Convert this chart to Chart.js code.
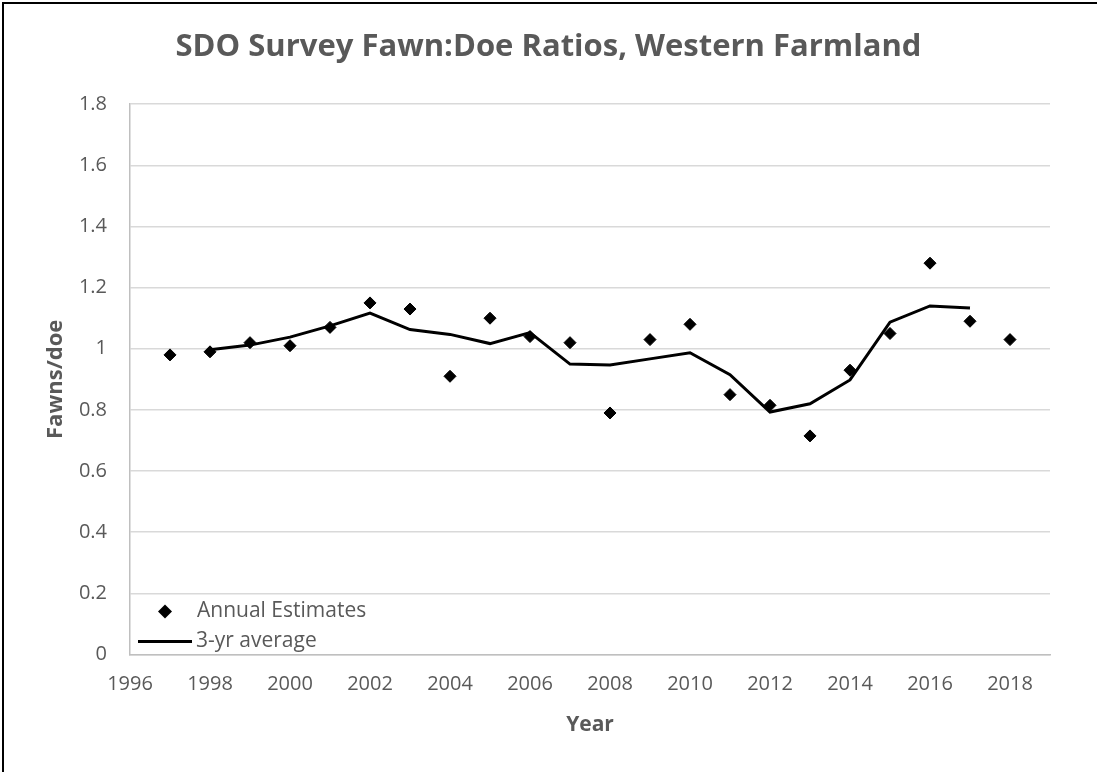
<!DOCTYPE html>
<html>
<head>
<meta charset="utf-8">
<script src="https://cdn.jsdelivr.net/npm/chart.js@4/dist/chart.umd.min.js"></script>
<style>
  html, body { margin:0; padding:0; background:#fff; }
  #wrap { width:1097px; height:772px; }
</style>
</head>
<body>
<div id="wrap"><canvas id="fdChart" width="1097" height="772"></canvas></div>
<script>
// Fawn:doe ratios by survey year
var years      = [1997,1998,1999,2000,2001,2002,2003,2004,2005,2006,2007,2008,2009,2010,2011,2012,2013,2014,2015,2016,2017,2018];
var annual     = [0.98,0.99,1.02,1.01,1.07,1.15,1.13,0.91,1.10,1.04,1.02,0.79,1.03,1.08,0.85,0.815,0.715,0.93,1.05,1.28,1.09,1.03];
var avgYears   = [1998,1999,2000,2001,2002,2003,2004,2005,2006,2007,2008,2009,2010,2011,2012,2013,2014,2015,2016,2017];
var avg3yr     = [0.997,1.012,1.038,1.075,1.117,1.063,1.047,1.017,1.053,0.950,0.947,0.967,0.987,0.915,0.793,0.820,0.898,1.087,1.140,1.133];
var xTicks     = [1996,1998,2000,2002,2004,2006,2008,2010,2012,2014,2016,2018];
var yTicks     = [0,0.2,0.4,0.6,0.8,1,1.2,1.4,1.6,1.8];

var grey = '#595959';
var fontFam = '"Open Sans", "Noto Sans", sans-serif';

// frame lines + in-plot legend
var framePlugin = {
    id:'frame',
    beforeDraw:function(chart){
        var c = chart.ctx;
        c.save();
        c.fillStyle = '#fff';
        c.fillRect(0,0,chart.width,chart.height);
        c.strokeStyle = '#000';
        c.lineWidth = 2;
        c.beginPath();
        c.moveTo(3,chart.height); c.lineTo(3,3); c.lineTo(chart.width,3);
        c.stroke();
        c.restore();
    },
    afterDraw:function(chart){
        var c = chart.ctx, a = chart.chartArea;
        var ds = chart.data.datasets;
        c.save();
        c.font = '21px ' + fontFam;
        c.textBaseline = 'middle';
        // diamond entry
        var dx = a.left + 35, dy = a.bottom - 43;
        c.fillStyle = '#000';
        c.beginPath();
        c.moveTo(dx-7,dy); c.lineTo(dx,dy-7); c.lineTo(dx+7,dy); c.lineTo(dx,dy+7);
        c.closePath(); c.fill();
        c.fillStyle = grey;
        c.fillText(ds[0].label, a.left + 67, dy);
        // line entry
        var ly = a.bottom - 13;
        c.strokeStyle = '#000';
        c.lineWidth = 3;
        c.beginPath(); c.moveTo(a.left + 8, ly); c.lineTo(a.left + 62, ly); c.stroke();
        c.fillText(ds[1].label, a.left + 66, ly);
        c.restore();
    }
};

new Chart(document.getElementById('fdChart').getContext('2d'), {
    type:'scatter',
    data:{
        datasets:[{
            label:'Annual Estimates',
            data: years.map(function(y,i){ return {x:y, y:annual[i]}; }),
            pointStyle:'rectRot',
            pointRadius:6,
            pointBorderWidth:1,
            backgroundColor:'#000',
            borderColor:'#000',
            showLine:false
        },{
            label:'3-yr average',
            data: avgYears.map(function(y,i){ return {x:y, y:avg3yr[i]}; }),
            showLine:true,
            borderColor:'#000',
            borderWidth:3,
            pointRadius:0,
            tension:0
        }]
    },
    options:{
        responsive:false,
        animation:false,
        layout:{padding:0},
        plugins:{
            legend:{display:false},
            tooltip:{enabled:false},
            title:{
                display:true,
                text:'SDO Survey Fawn:Doe Ratios, Western Farmland',
                color:grey,
                font:{family:fontFam, size:31, weight:'bold'},
                padding:{top:29, bottom:38}
            }
        },
        scales:{
            x:{
                type:'linear',
                min:1996, max:2019,
                afterBuildTicks:function(s){
                    s.ticks = xTicks.map(function(v){ return {value:v}; });
                },
                afterFit:function(s){ s.height = 117.5; },
                ticks:{
                    color:grey,
                    padding:18,
                    maxRotation:0,
                    autoSkip:false,
                    font:{family:fontFam, size:20},
                    callback:function(v){ return String(v); }
                },
                grid:{display:false, drawTicks:false},
                border:{display:true, color:'#bfbfbf', width:1.5},
                title:{
                    display:true, text:'Year', color:grey,
                    font:{family:fontFam, size:21, weight:'bold'},
                    padding:{bottom:34}
                }
            },
            y:{
                min:0, max:1.8,
                afterBuildTicks:function(s){
                    s.ticks = yTicks.map(function(v){ return {value:v}; });
                },
                afterFit:function(s){ s.width = 130; },
                ticks:{
                    color:grey,
                    padding:23,
                    font:{family:fontFam, size:20},
                    callback:function(v){ return String(+v.toFixed(1)); }
                },
                grid:{color:'#d9d9d9', lineWidth:1.5, drawTicks:false},
                border:{display:true, color:'#bfbfbf', width:1.5},
                title:{
                    display:true, text:'Fawns/doe', color:grey,
                    font:{family:fontFam, size:22, weight:'bold'},
                    padding:{top:43}
                }
            },
            // empty right-hand margin column
            yMargin:{
                position:'right',
                display:true,
                grid:{display:false, drawTicks:false},
                border:{display:false},
                ticks:{display:false},
                afterFit:function(s){ s.width = 47; }
            }
        }
    },
    plugins:[framePlugin]
});
</script>
</body>
</html>
